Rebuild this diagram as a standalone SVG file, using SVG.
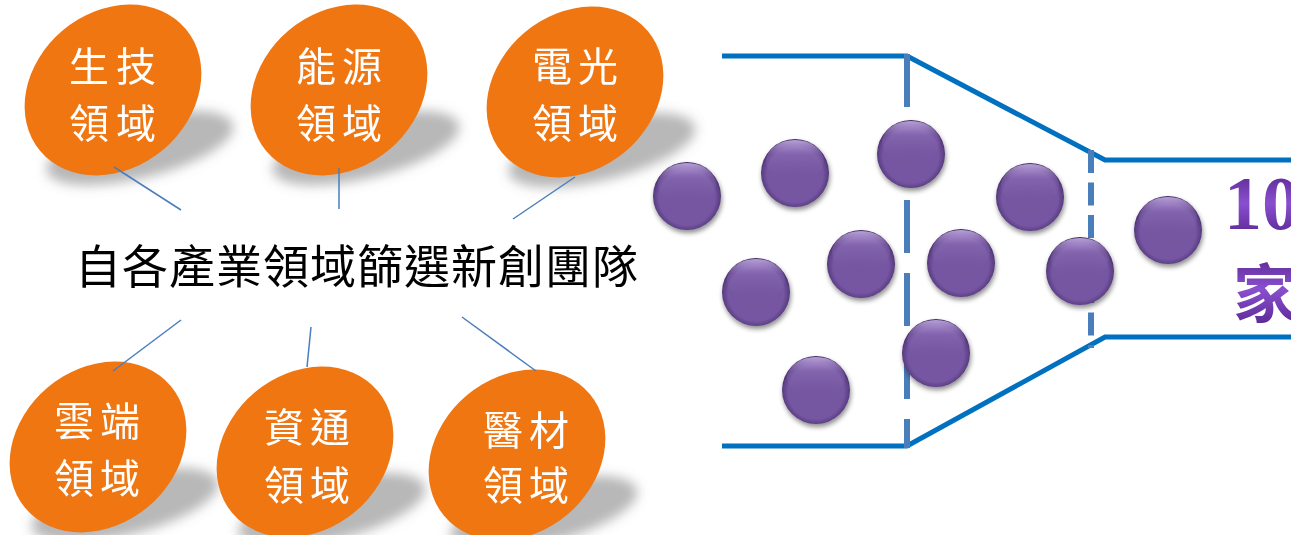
<svg xmlns="http://www.w3.org/2000/svg" width="1291" height="535" viewBox="0 0 1291 535">
<defs>
  <filter id="blur" x="-30%" y="-60%" width="160%" height="220%"><feGaussianBlur stdDeviation="6"/></filter>
  <filter id="bsh" x="-30%" y="-30%" width="160%" height="160%">
    <feGaussianBlur in="SourceAlpha" stdDeviation="2.5"/>
    <feOffset dx="1" dy="3" result="o"/>
    <feComponentTransfer><feFuncA type="linear" slope="0.45"/></feComponentTransfer>
    <feMerge><feMergeNode/><feMergeNode in="SourceGraphic"/></feMerge>
  </filter>
  <radialGradient id="ballG" cx="50%" cy="52%" r="52%">
    <stop offset="0" stop-color="#7555a0"/>
    <stop offset="0.78" stop-color="#7657a2"/>
    <stop offset="0.93" stop-color="#5c3f85"/>
    <stop offset="1" stop-color="#3b255c"/>
  </radialGradient>
  <linearGradient id="hlG" x1="0" y1="0" x2="0" y2="1">
    <stop offset="0" stop-color="#d8c6f5" stop-opacity="0.75"/>
    <stop offset="0.35" stop-color="#a88ad0" stop-opacity="0.25"/>
    <stop offset="1" stop-color="#7657a2" stop-opacity="0"/>
  </linearGradient>
  <linearGradient id="txtG" x1="0" y1="0" x2="0" y2="1">
    <stop offset="0" stop-color="#4a1c7c"/>
    <stop offset="0.5" stop-color="#8a4fcf"/>
    <stop offset="1" stop-color="#4e1f85"/>
  </linearGradient>
  <g id="ball">
    <circle r="34" fill="url(#ballG)"/>
    <ellipse cx="0" cy="-12" rx="29" ry="21" fill="url(#hlG)"/>
  </g>
</defs>
<style>
  .shadow { fill: #6f6f6f; opacity: 0.5; }
  .oval { fill: #f07612; }
  .ot { font-family: "Noto Sans CJK TC", "Noto Sans CJK SC", sans-serif; font-size: 40px; fill: #ffffff; text-anchor: middle; }
  .main { font-family: "Noto Sans CJK TC", "Noto Sans CJK SC", sans-serif; font-size: 46px; fill: #000000; letter-spacing: 1px; }
  .conn { stroke: #4a7ebb; stroke-width: 1.5; fill: none; }
  .funnel { stroke: #0070c0; stroke-width: 5; fill: none; }
  .dash { stroke: #4a7ebb; stroke-width: 6; fill: none; }
  .big { font-family: "Liberation Serif", serif; font-weight: bold; }
  .cjkbig { font-family: "Noto Sans CJK TC", "Noto Sans CJK SC", sans-serif; font-weight: bold; }
</style>
<rect width="1291" height="535" fill="#ffffff"/>

<!-- shadows -->
<g filter="url(#blur)">
  <ellipse class="shadow" cx="140" cy="148" rx="96" ry="30" transform="rotate(-14 140 148)"/>
  <ellipse class="shadow" cx="366" cy="148" rx="96" ry="30" transform="rotate(-14 366 148)"/>
  <ellipse class="shadow" cx="602" cy="150" rx="96" ry="30" transform="rotate(-14 602 150)"/>
  <ellipse class="shadow" cx="125" cy="505" rx="96" ry="30" transform="rotate(-14 125 505)"/>
  <ellipse class="shadow" cx="332" cy="510" rx="96" ry="30" transform="rotate(-14 332 510)"/>
  <ellipse class="shadow" cx="544" cy="513" rx="96" ry="30" transform="rotate(-14 544 513)"/>
</g>

<g id="n-shengji">
  <ellipse class="oval" cx="113" cy="90" rx="95" ry="78" transform="rotate(-40 113 90)"/>
  <text class="ot"><tspan x="89" y="81">生</tspan><tspan x="136" y="81">技</tspan><tspan x="89" y="138">領</tspan><tspan x="136" y="138">域</tspan></text>
</g>
<g id="n-nengyuan">
  <ellipse class="oval" cx="339" cy="90" rx="95" ry="78" transform="rotate(-40 339 90)"/>
  <text class="ot"><tspan x="316" y="81">能</tspan><tspan x="362" y="81">源</tspan><tspan x="316" y="138">領</tspan><tspan x="362" y="138">域</tspan></text>
</g>
<g id="n-dianguang">
  <ellipse class="oval" cx="575" cy="92" rx="95" ry="78" transform="rotate(-40 575 92)"/>
  <text class="ot"><tspan x="552" y="81">電</tspan><tspan x="598" y="81">光</tspan><tspan x="552" y="138">領</tspan><tspan x="598" y="138">域</tspan></text>
</g>
<g id="n-yunduan">
  <ellipse class="oval" cx="98" cy="447" rx="95" ry="78" transform="rotate(-40 98 447)"/>
  <text class="ot"><tspan x="74" y="436">雲</tspan><tspan x="120" y="436">端</tspan><tspan x="74" y="493">領</tspan><tspan x="120" y="493">域</tspan></text>
</g>
<g id="n-zitong">
  <ellipse class="oval" cx="305" cy="452" rx="95" ry="78" transform="rotate(-40 305 452)"/>
  <text class="ot"><tspan x="284" y="442">資</tspan><tspan x="330" y="442">通</tspan><tspan x="284" y="500">領</tspan><tspan x="330" y="500">域</tspan></text>
</g>
<g id="n-yicai">
  <ellipse class="oval" cx="517" cy="455" rx="95" ry="78" transform="rotate(-40 517 455)"/>
  <text class="ot"><tspan x="503" y="445">醫</tspan><tspan x="549" y="445">材</tspan><tspan x="503" y="500">領</tspan><tspan x="549" y="500">域</tspan></text>
</g>

<g id="n-center">
  <text class="main" x="75" y="283">自各產業領域篩選新創團隊</text>
</g>

<g id="connectors">
  <line class="conn" x1="114" y1="167" x2="181" y2="210"/>
  <line class="conn" x1="339" y1="168" x2="339" y2="209"/>
  <line class="conn" x1="575" y1="177" x2="513" y2="219"/>
  <line class="conn" x1="181" y1="320" x2="113" y2="371"/>
  <line class="conn" x1="311" y1="327" x2="307" y2="367"/>
  <line class="conn" x1="462" y1="317" x2="536" y2="371"/>
</g>

<g id="funnel">
  <path class="funnel" d="M722,56 H907 L1105,160 H1291"/>
  <path class="funnel" d="M722,446 H907 L1105,337 H1291"/>
  <line class="dash" x1="907" y1="54" x2="907" y2="448" stroke-dasharray="53 20"/>
  <line class="dash" x1="1091" y1="150" x2="1091" y2="348" stroke-dasharray="23 9.5"/>
</g>

<g id="balls" filter="url(#bsh)">
  <use href="#ball" x="687" y="196"/>
  <use href="#ball" x="795" y="173"/>
  <use href="#ball" x="911" y="154"/>
  <use href="#ball" x="756" y="292"/>
  <use href="#ball" x="861" y="264"/>
  <use href="#ball" x="961" y="263"/>
  <use href="#ball" x="936" y="353"/>
  <use href="#ball" x="816" y="390"/>
  <use href="#ball" x="1030" y="197"/>
  <use href="#ball" x="1080" y="271"/>
  <use href="#ball" x="1168" y="230"/>
</g>

<g id="n-result">
  <text class="big" x="1224" y="229" font-size="76" fill="url(#txtG)">10</text>
  <text class="cjkbig" x="1233" y="317" font-size="64" fill="url(#txtG)">家</text>
</g>
</svg>
